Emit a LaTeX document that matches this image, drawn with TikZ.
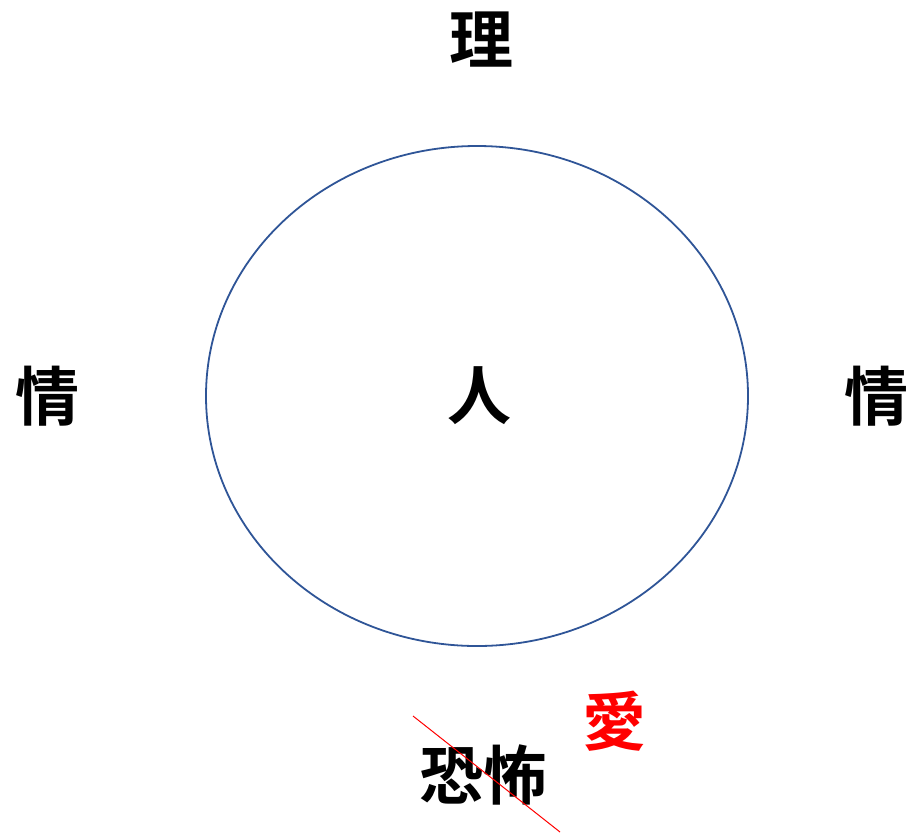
\documentclass[tikz,border=0pt]{standalone}
\usepackage{fontspec}
\usetikzlibrary{shapes.geometric}
\newfontfamily\cjk{Noto Sans CJK JP}[BoldFont={* Bold}]
\definecolor{ellblue}{HTML}{2F5597}
\begin{document}
\begin{tikzpicture}[x=1pt,y=1pt,
  kanji/.style={font=\cjk\bfseries\fontsize{64}{64}\selectfont, inner sep=0pt}]
\useasboundingbox (0,0) rectangle (912,-833);
\node[draw=ellblue, line width=1.8pt, ellipse, minimum width=542pt, minimum height=500pt, inner sep=0pt] (circ) at (477,-396) {};
\node[kanji] (ri) at (481,-40) {理};
\node[kanji] (jl) at (48,-396) {情};
\node[kanji] (jr) at (876,-396) {情};
\node[kanji] (hito) at (479,-396) {人};
\node[kanji] (kyofu) at (483,-775) {恐怖};
\node[kanji, text=red] (ai) at (614,-721) {愛};
\coordinate (s1) at (413,-716);
\coordinate (s2) at (560,-832);
\draw[red, line width=1pt] (s1) -- (s2);
\end{tikzpicture}
\end{document}
